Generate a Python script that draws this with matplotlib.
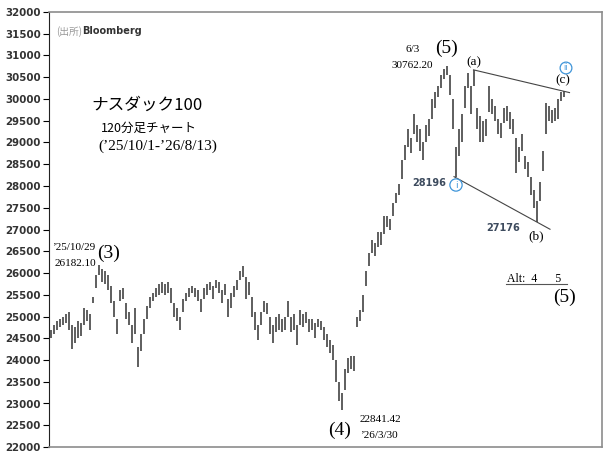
import matplotlib
matplotlib.use("Agg")
import matplotlib.pyplot as plt
from matplotlib.lines import Line2D
import numpy as np

# 120分足 (間引き) 高値・安値
lows = [24500, 24600, 24700, 24750, 24800, 24850, 24700, 24250, 24400, 24500,
        24550, 24800, 24900, 24700, 25300, 25650, 25950, 25800, 25750, 25600,
        25300, 25000, 24600, 25350, 25400, 24950, 24800, 24400, 24600, 23850,
        24200, 24600, 24950, 25200, 25350, 25450, 25500, 25550, 25500, 25550,
        25300, 25000, 24900, 24700, 25100, 25350, 25450, 25550, 25450, 25350,
        25100, 25400, 25500, 25600, 25400, 25650, 25550, 25300, 25500, 25000,
        25200, 25450, 25600, 25850, 25900, 25400, 25500, 25000, 24700, 24450,
        24800, 25100, 25050, 24600, 24400, 24650, 24700, 24650, 24700, 25000,
        24650, 24700, 24350, 24800, 24750, 24850, 24650, 24700, 24500, 24750,
        24700, 24450, 24300, 24150, 24000, 23500, 23050, 22841, 23300, 23700,
        23800, 23750, 24750, 24900, 25100, 25700, 26150, 26450, 26400, 26600,
        26650, 26900, 27050, 27000, 27300, 27600, 27800, 28150, 28600, 28900,
        28750, 29200, 29000, 28800, 28600, 29000, 29150, 29550, 29800, 30050,
        30250, 30450, 30550, 30100, 29300, 28196, 28700, 29000, 29800, 30250,
        29650, 30300, 29300, 29000, 29000, 29150, 29700, 29650, 29500, 29200,
        29100, 29450, 29500, 29300, 29200, 28300, 28550, 28800, 28400, 28200,
        27800, 27500, 27176, 27650, 28350, 29200, 29500, 29450, 29500, 29550,
        29950, 30050]
highs = [24700, 24800, 24900, 24950, 25000, 25050, 25100, 24800, 24750, 24900,
         24850, 25200, 25150, 25050, 25450, 25950, 26182, 26100, 26050, 25950,
         25700, 25350, 24950, 25600, 25650, 25300, 25100, 24800, 25200, 24300,
         24600, 24950, 25250, 25450, 25550, 25650, 25750, 25800, 25750, 25800,
         25650, 25300, 25200, 25000, 25400, 25550, 25650, 25700, 25650, 25600,
         25400, 25650, 25750, 25800, 25700, 25850, 25800, 25600, 25750, 25400,
         25550, 25700, 25850, 26050, 26150, 25900, 25800, 25450, 25100, 24800,
         25100, 25350, 25300, 25000, 24800, 25000, 25050, 24950, 25000, 25350,
         25000, 25050, 24800, 25150, 25050, 25100, 24950, 24950, 24850, 24950,
         24900, 24750, 24600, 24450, 24350, 24000, 23500, 23250, 23800, 24050,
         24100, 24100, 25000, 25150, 25500, 26050, 26450, 26750, 26700, 26950,
         26950, 27300, 27300, 27250, 27600, 27850, 28050, 28600, 28950, 29300,
         29100, 29650, 29400, 29300, 29000, 29400, 29550, 30000, 30150, 30300,
         30550, 30700, 30762, 30550, 30000, 28900, 29300, 29650, 30300, 30600,
         30300, 30670, 29800, 29600, 29500, 29550, 30300, 30000, 29850, 29550,
         29450, 29800, 29850, 29700, 29550, 29100, 28900, 29200, 28700, 28550,
         28200, 27900, 27650, 28100, 28800, 29900, 29850, 29750, 29800, 30000,
         30150, 30180]

lows = np.array(lows)
highs = np.array(highs)
x = np.arange(len(lows))

W, H = 604, 459
fig = plt.figure(figsize=(W / 100, H / 100), dpi=100)
ax = fig.add_axes([49 / W, 12 / H, 553 / W, 435 / H])

ax.vlines(x, lows, highs, color='#333333', lw=1.1)

ax.set_xlim(-0.5, 553 / 3 - 0.5)
ax.set_ylim(22000, 32000)
ax.set_yticks(np.arange(22000, 32001, 500))
ax.set_xticks([])
ax.tick_params(axis='y', direction='out', length=4, width=0.8, pad=2,
               labelsize=7.4, labelcolor='#333333')
for lab in ax.get_yticklabels():
    lab.set_fontweight('bold')
for s in ['top', 'right', 'bottom']:
    ax.spines[s].set_color('#8c8c8c')
    ax.spines[s].set_linewidth(1.2)
ax.spines['left'].set_color('#222222')

# 波動のトレンドライン
i_low1, i_low2 = 135, 162
i_a, i_c = 141, len(highs) - 1
sl = (lows[i_low2] - lows[i_low1]) / (i_low2 - i_low1)
xs = np.array([i_low1 - 0.5, i_low2 + 4.5])
ax.plot(xs, lows[i_low1] + sl * (xs - i_low1), color='#444444', lw=0.8)
su = (highs[i_c] - highs[i_a]) / (i_c - i_a)
xs = np.array([i_a, i_c + 2])
ax.plot(xs, highs[i_a] + su * (xs - i_a), color='#444444', lw=0.8)

serif = 'Liberation Serif'
cjk = ['Noto Sans CJK JP', 'DejaVu Sans']


def ftxt(px, py, s, **kw):
    kw.setdefault('va', 'center')
    return fig.text(px / W, 1 - py / H, s, **kw)


ftxt(56, 32, '(出所)', family=cjk, fontsize=7, color='#999999')
ftxt(82, 31, 'Bloomberg', fontsize=7, fontweight='bold', color='#333333')

ftxt(91, 105, 'ナスダック100', family=cjk, fontsize=12)
ftxt(101, 128, '120分足チャート', family=cjk, fontsize=9)
ftxt(98, 146, '(’25/10/1-’26/8/13)', family=serif, fontsize=11)

ftxt(52, 247, '’25/10/29', family=serif, fontsize=8)
ftxt(55, 263, '26182.10', family=serif, fontsize=8)
ftxt(97, 253, '(3)', family=serif, fontsize=14)

ftxt(413, 50, '6/3', family=serif, fontsize=8, ha='center')
ftxt(412, 65, '30762.20', family=serif, fontsize=8, ha='center')
ftxt(446, 48, '(5)', family=serif, fontsize=14, ha='center')
ftxt(474, 62, '(a)', family=serif, fontsize=9.5, ha='center')
ftxt(563, 80, '(c)', family=serif, fontsize=9.5, ha='center')
ftxt(536, 236, '(b)', family=serif, fontsize=9.5, ha='center')

ftxt(429, 183, '28196', fontsize=7, fontweight='bold', color='#3d4b5e', ha='center')
ftxt(503, 228, '27176', fontsize=7, fontweight='bold', color='#3d4b5e', ha='center')

circ = dict(boxstyle='circle,pad=0.18', fc='white', ec='#3f95d9', lw=0.9)
ftxt(456, 185, 'i', fontsize=6.5, color='#3f95d9', ha='center', bbox=circ)
ftxt(566, 68, 'ii', fontsize=5.5, color='#3f95d9', ha='center', bbox=circ)

ftxt(507, 279, 'Alt:  4      5', family=serif, fontsize=8.5)
fig.add_artist(Line2D([506 / W, 567 / W], [1 - 284 / H, 1 - 284 / H],
                      color='#555555', lw=0.8))
ftxt(564, 297, '(5)', family=serif, fontsize=14, ha='center')

ftxt(340, 430, '(4)', family=serif, fontsize=14, ha='center')
ftxt(360, 420, '22841.42', family=serif, fontsize=8)
ftxt(360, 435, '’26/3/30', family=serif, fontsize=8)

fig.savefig('out.png', dpi=100)
